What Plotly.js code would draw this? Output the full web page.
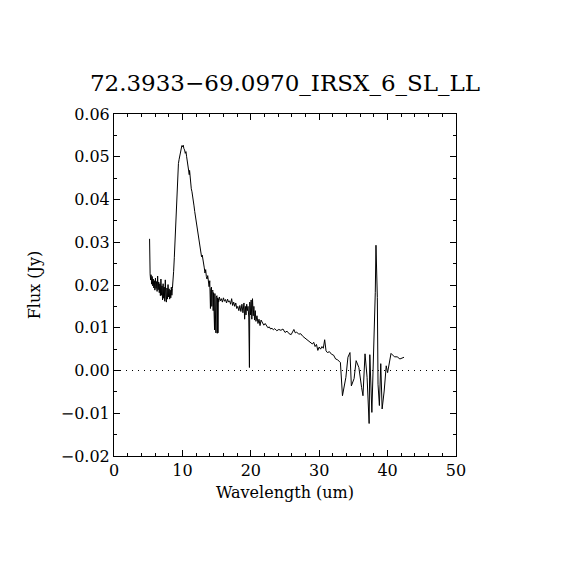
<!DOCTYPE html>
<html>
<head>
<meta charset="utf-8">
<script src="https://cdn.plot.ly/plotly-3.0.1.min.js"></script>
<style>html,body{margin:0;padding:0;background:#fff;}#chart{width:570px;height:570px;}</style>
</head>
<body>
<div id="chart"></div>
<script>
const chartTitle = "72.3933\u221269.0970_IRSX_6_SL_LL";
const xLabel = "Wavelength (um)";
const yLabel = "Flux (Jy)";

const wavelength = [
  5.20, 5.22, 5.28, 5.35, 5.42, 5.50, 5.58, 5.66, 5.74, 5.82, 5.90, 5.98, 6.06, 6.14, 6.22, 6.30,
  6.38, 6.46, 6.54, 6.62, 6.70, 6.78, 6.86, 6.94, 7.02, 7.10, 7.18, 7.26, 7.34, 7.42, 7.50, 7.58,
  7.66, 7.74, 7.82, 7.90, 7.98, 8.06, 8.14, 8.22, 8.30, 8.38, 8.46, 8.54, 8.62, 8.72, 8.82, 8.92,
  9.02, 9.12, 9.22, 9.32, 9.42, 9.52, 9.62, 9.72, 9.82, 9.92, 10.02, 10.12, 10.22, 10.32, 10.42,
  10.52, 10.62, 10.72, 10.82, 10.92, 11.00, 11.05, 11.10, 11.20, 11.30, 11.40, 11.50, 11.60, 11.70,
  11.80, 11.90, 12.00, 12.10, 12.20, 12.30, 12.40, 12.50, 12.60, 12.70, 12.80, 12.90, 13.00, 13.10,
  13.20, 13.30, 13.40, 13.50, 13.60, 13.70, 13.80, 13.90, 14.00, 14.05, 14.10, 14.15, 14.20, 14.25,
  14.30, 14.35, 14.40, 14.45, 14.50, 14.55, 14.60, 14.65, 14.70, 14.75, 14.80, 14.85, 14.90, 14.95,
  15.00, 15.05, 15.10, 15.15, 15.20, 15.25, 15.30, 15.40, 15.55, 15.70, 15.85, 16.00, 16.15, 16.30,
  16.45, 16.60, 16.75, 16.90, 17.05, 17.20, 17.35, 17.50, 17.65, 17.80, 17.95, 18.10, 18.25, 18.40,
  18.55, 18.70, 18.85, 19.00, 19.10, 19.20, 19.30, 19.40, 19.50, 19.60, 19.70, 19.80, 19.85, 19.95,
  20.05, 20.15, 20.25, 20.35, 20.45, 20.55, 20.65, 20.75, 20.90, 21.05, 21.20, 21.35, 21.50, 21.70,
  21.90, 22.10, 22.30, 22.50, 22.70, 22.90, 23.10, 23.30, 23.50, 23.80, 24.10, 24.40, 24.70, 25.00,
  25.30, 25.60, 25.90, 26.10, 26.30, 26.50, 26.70, 27.00, 27.30, 27.60, 27.90, 28.20, 28.50, 28.80,
  29.00, 29.20, 29.40, 29.60, 29.80, 30.00, 30.20, 30.40, 30.60, 30.80, 31.00, 31.20, 31.50, 31.80,
  32.10, 32.40, 32.70, 33.00, 33.10, 33.40, 33.90, 34.20, 34.50, 34.70, 35.10, 35.40, 35.80, 36.20,
  36.40, 36.70, 37.00, 37.30, 37.40, 37.70, 38.00, 38.20, 38.30, 38.50, 38.60, 38.80, 39.00, 39.20,
  39.50, 39.80, 40.00, 40.20, 40.50, 41.00, 41.40, 41.80, 42.40
];

const flux = [
  0.0308, 0.0240, 0.0226, 0.0212, 0.0224, 0.0202, 0.0220, 0.0198, 0.0214, 0.0193, 0.0210, 0.0188, 0.0216, 0.0192, 0.0208, 0.0185,
  0.0221, 0.0189, 0.0207, 0.0182, 0.0203, 0.0175, 0.0214, 0.0176, 0.0198, 0.0165, 0.0203, 0.0169, 0.0195, 0.0162, 0.0212, 0.0172,
  0.0160, 0.0193, 0.0167, 0.0201, 0.0172, 0.0191, 0.0167, 0.0188, 0.0170, 0.0195, 0.0176, 0.0192, 0.0205, 0.0232, 0.0265, 0.0300,
  0.0345, 0.0402, 0.0440, 0.0465, 0.0484, 0.0494, 0.0505, 0.0515, 0.0522, 0.0526, 0.0523, 0.0527, 0.0519, 0.0516, 0.0508,
  0.0512, 0.0500, 0.0490, 0.0478, 0.0470, 0.0458, 0.0468, 0.0455, 0.0440, 0.0425, 0.0418, 0.0402, 0.0396, 0.0385,
  0.0372, 0.0360, 0.0348, 0.0338, 0.0325, 0.0314, 0.0302, 0.0292, 0.0286, 0.0276, 0.0266, 0.0270, 0.0255, 0.0246,
  0.0240, 0.0228, 0.0236, 0.0220, 0.0214, 0.0222, 0.0205, 0.0196, 0.0210, 0.0185, 0.0145, 0.0190, 0.0160, 0.0195,
  0.0150, 0.0185, 0.0155, 0.0188, 0.0140, 0.0182, 0.0130, 0.0178, 0.0095, 0.0180, 0.0090, 0.0176, 0.0088, 0.0172,
  0.0087, 0.0175, 0.0087, 0.0170, 0.0088, 0.0168, 0.0160, 0.0172, 0.0163, 0.0168, 0.0160, 0.0170, 0.0162, 0.0166,
  0.0158, 0.0167, 0.0160, 0.0163, 0.0155, 0.0168, 0.0152, 0.0160, 0.0150, 0.0158, 0.0145, 0.0150, 0.0140, 0.0152,
  0.0138, 0.0155, 0.0135, 0.0158, 0.0120, 0.0150, 0.0130, 0.0155, 0.0140, 0.0150, 0.0125, 0.0007, 0.0160, 0.0130,
  0.0165, 0.0120, 0.0168, 0.0128, 0.0150, 0.0118, 0.0140, 0.0115, 0.0128, 0.0110, 0.0120, 0.0105, 0.0118, 0.0112,
  0.0106, 0.0110, 0.0104, 0.0100, 0.0102, 0.0097, 0.0099, 0.0095, 0.0098, 0.0093, 0.0096, 0.0094, 0.0097, 0.0089,
  0.0092, 0.0086, 0.0084, 0.0092, 0.0096, 0.0088, 0.0090, 0.0085, 0.0086, 0.0080, 0.0076, 0.0073, 0.0068, 0.0064,
  0.0062, 0.0066, 0.0056, 0.0061, 0.0047, 0.0055, 0.0050, 0.0056, 0.0052, 0.0072, 0.0046, 0.0042, 0.0044, 0.0038,
  0.0036, 0.0027, 0.0025, 0.0020, 0.0019, -0.0059, -0.0016, 0.0031, 0.0042, -0.0036, -0.0019, 0.0023, 0.0007, -0.0040,
  -0.0059, 0.0039, -0.0016, -0.0124, 0.0037, -0.0098, 0.0046, 0.0183, 0.0293, 0.0171, -0.0032, -0.0082, 0.0016, -0.0090,
  -0.0048, 0.0011, -0.0005, 0.0015, 0.0040, 0.0032, 0.0032, 0.0027, 0.0031
];

const xTickVals = [0, 10, 20, 30, 40, 50];
const yTickVals = [-0.02, -0.01, 0.00, 0.01, 0.02, 0.03, 0.04, 0.05, 0.06];

const serif = "DejaVu Serif";

const trace = {
  x: wavelength,
  y: flux,
  type: "scatter",
  mode: "lines",
  line: {color: "#000", width: 1},
  hoverinfo: "skip"
};

const axisCommon = {
  showline: true,
  linecolor: "#000",
  linewidth: 1,
  mirror: "allticks",
  ticks: "inside",
  ticklen: 6,
  tickwidth: 1,
  tickcolor: "#000",
  showgrid: false,
  zeroline: false,
  tickfont: {family: serif, size: 16, color: "#000"}
};

const layout = {
  width: 570,
  height: 570,
  paper_bgcolor: "#fff",
  plot_bgcolor: "#fff",
  showlegend: false,
  margin: {l: 114, r: 114, t: 114, b: 114, pad: 0},
  title: {
    text: chartTitle,
    font: {family: serif, size: 23, color: "#000"},
    x: 0.5, xref: "paper", xanchor: "center",
    y: 1 - 83 / 570, yref: "container", yanchor: "middle"
  },
  xaxis: Object.assign({}, axisCommon, {
    range: [0, 50],
    tickvals: xTickVals,
    ticktext: xTickVals.map(String),
    minor: {dtick: 2, tick0: 0, ticks: "inside", ticklen: 3, tickcolor: "#000", tickwidth: 1, showgrid: false},
    title: {text: xLabel, font: {family: serif, size: 16, color: "#000"}, standoff: 7}
  }),
  yaxis: Object.assign({}, axisCommon, {
    range: [-0.02, 0.06],
    tickvals: yTickVals,
    tickformat: ".2f",
    minor: {dtick: 0.005, tick0: 0, ticks: "inside", ticklen: 3, tickcolor: "#000", tickwidth: 1, showgrid: false},
    title: {text: yLabel, font: {family: serif, size: 16, color: "#000"}, standoff: 16}
  }),
  shapes: [{
    type: "line", xref: "paper", yref: "y",
    x0: 0, x1: 1, y0: 0, y1: 0,
    line: {color: "#000", width: 1, dash: "1px,5px"}
  }]
};

Plotly.newPlot("chart", [trace], layout, {staticPlot: true, displayModeBar: false});
</script>
</body>
</html>
